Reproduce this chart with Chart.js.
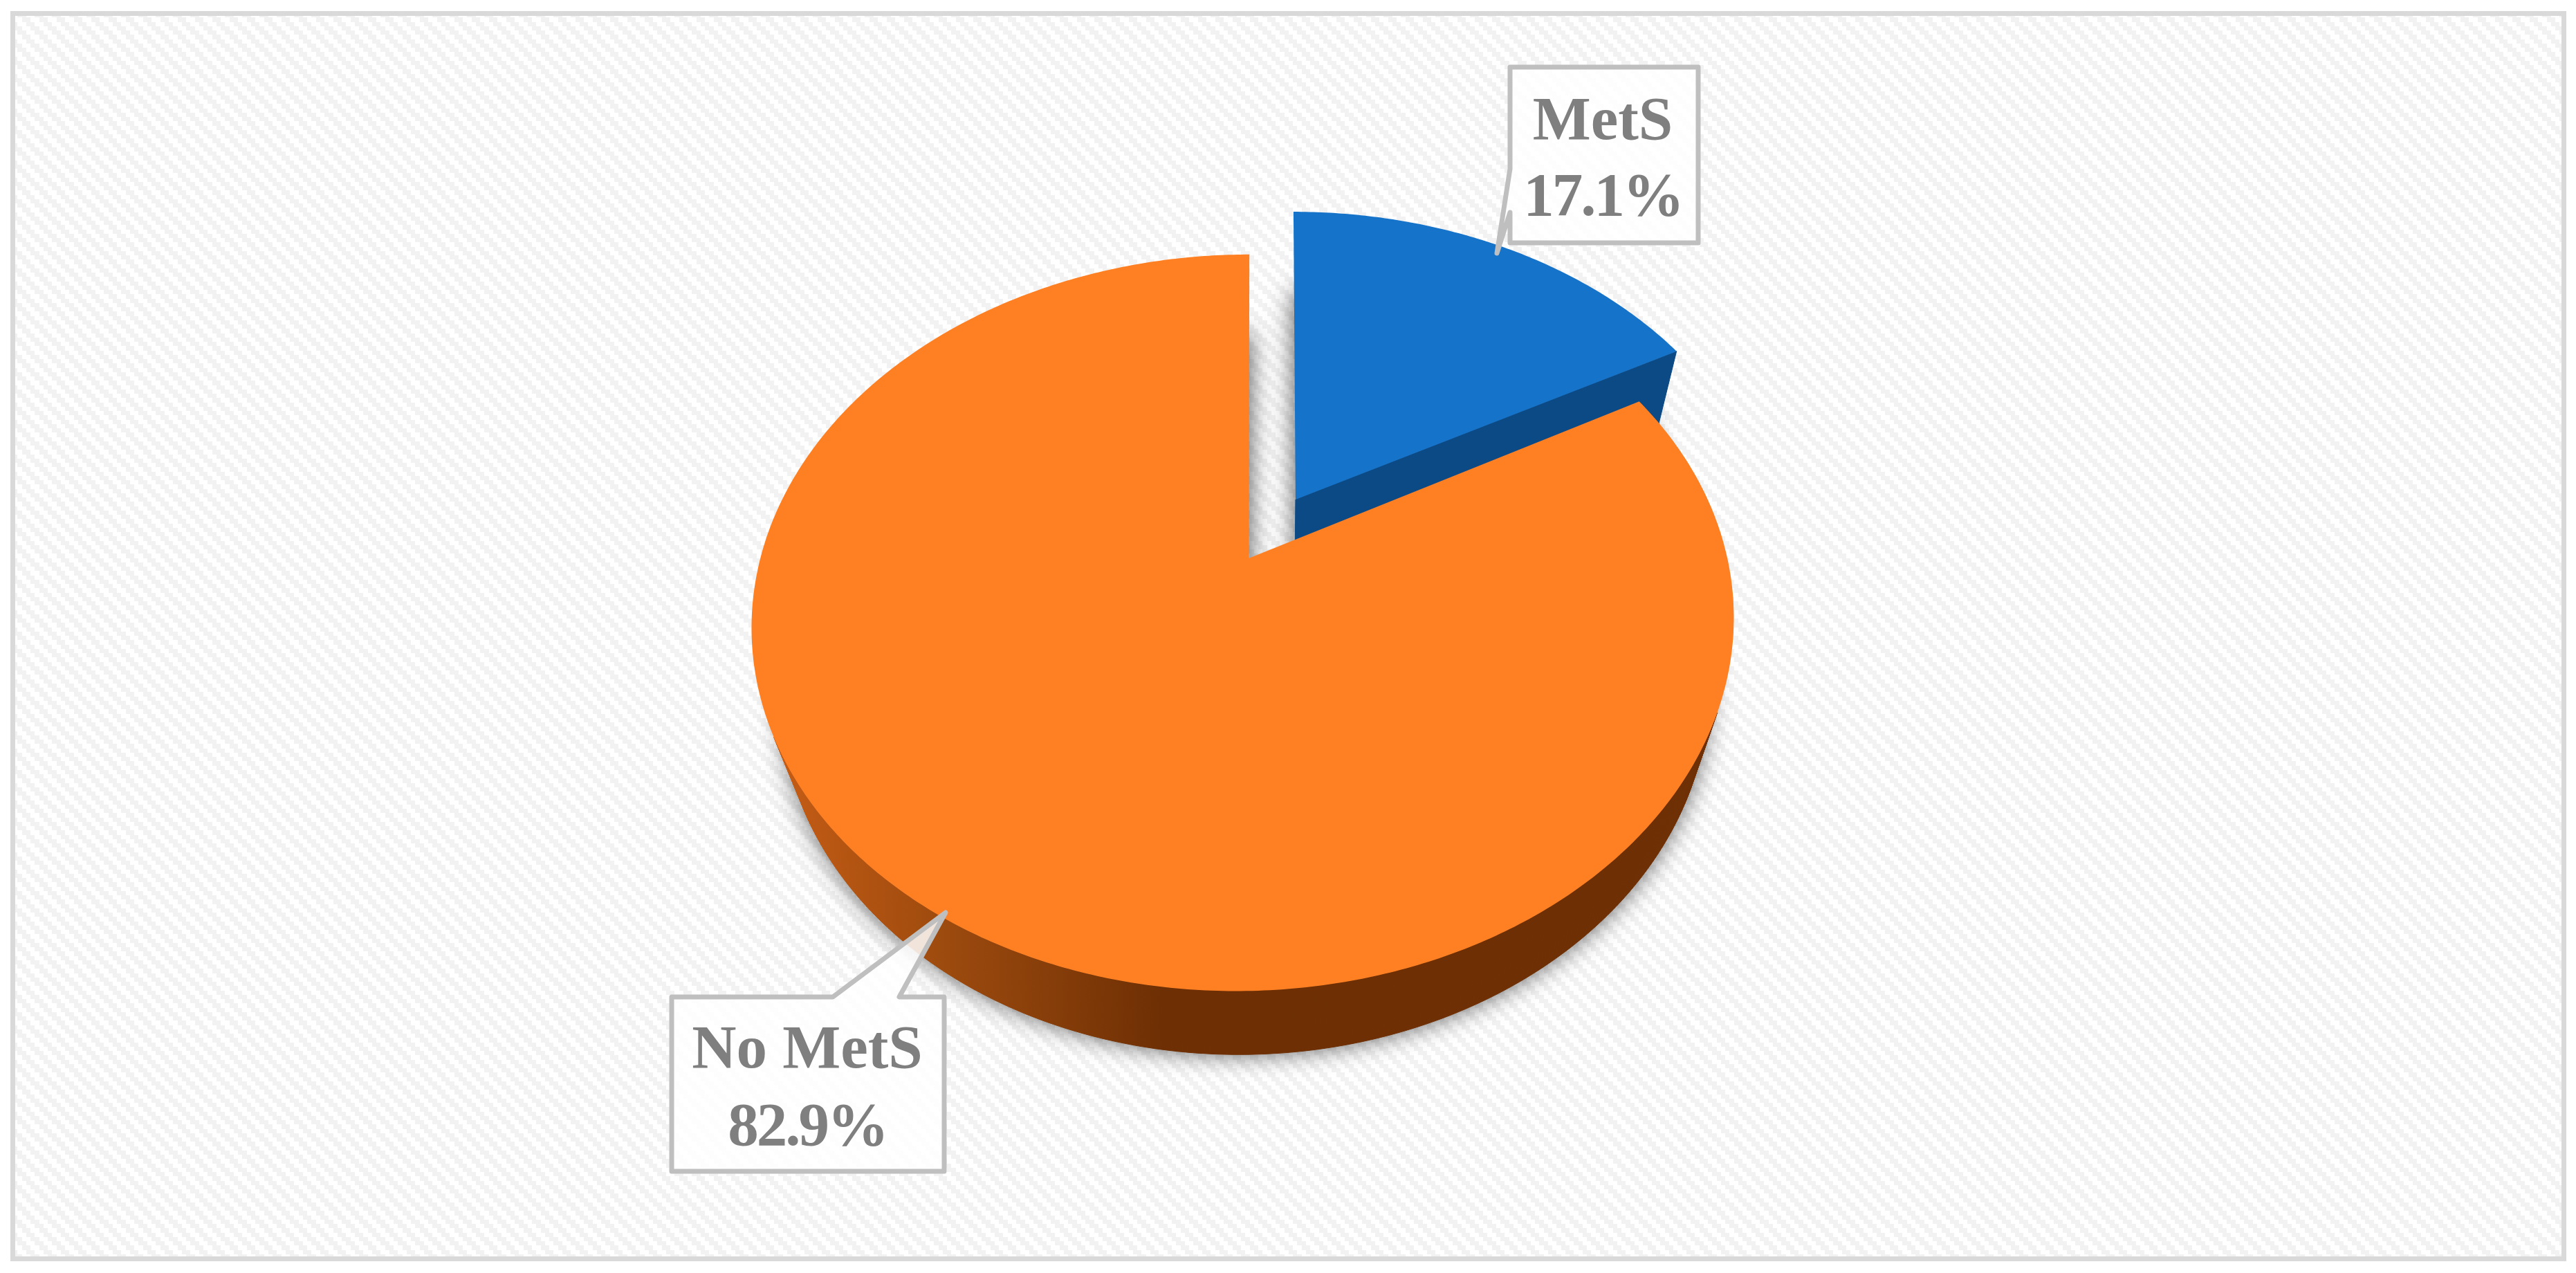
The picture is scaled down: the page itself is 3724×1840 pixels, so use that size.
<!DOCTYPE html>
<html>
<head>
<meta charset="utf-8">
<title>MetS</title>
<script src="https://cdn.jsdelivr.net/npm/chart.js@4/dist/chart.umd.min.js"></script>
<style>
  html, body { margin: 0; padding: 0; background: #fff; }
  #wrap { width: 3724px; height: 1840px; position: relative; }
</style>
</head>
<body>
<div id="wrap"><canvas id="pie"></canvas></div>
<script>
const categories = ['MetS', 'No MetS'];
const values = [17.1, 82.9];
const topColors = ['#1673CA', '#FF7F23'];
const wallColors = ['#0B4A85', '#6E2F04'];

const RADIUS = 700;
const EXPLODE = [552, 0]; // chart.js draws offset / 4

// perspective of the pie plane, fitted to the picture
const view = { ax: 1852, cy: 807, u0: -0.067, a: 699, b: 516, p: 0.175, g: 0.0575, d: 117 };
// small sideways nudges on the disk: whole slice, then rim only
const sliceNudge = [-0.003, 0];
const rimNudge = [0, -0.01];

// callout boxes
const callouts = [
  { box: [2183, 97, 2455, 351], points: [[2183, 307], [2164, 366], [2183, 244]], textX: 2317, lines: [201, 311] },
  { box: [971, 1441, 1365, 1693], points: [[1300, 1441], [1367, 1319], [1204, 1441]], textX: 1167, lines: [1543, 1655] }
];

function project(u, v, h) {
  const w = 1 - view.p * v + view.g * h;
  return [view.ax + view.a * (u + view.u0) / w, view.cy + (view.b * v + view.d * h) / w];
}

// outline of a slice on the unit disk, starting at its apex
function sliceOutline(arc, index) {
  const { startAngle, endAngle, outerRadius, options } = arc;
  const mid = (startAngle + endAngle) / 2;
  const shift = (options.offset || 0) / 4 / outerRadius;
  const cu = Math.cos(mid) * shift + sliceNudge[index];
  const cv = Math.sin(mid) * shift;
  const pts = [[cu, cv]];
  const steps = Math.ceil((endAngle - startAngle) / 0.01);
  for (let i = 0; i <= steps; i++) {
    const t = startAngle + (endAngle - startAngle) * i / steps;
    pts.push([cu + rimNudge[index] + Math.cos(t), cv + Math.sin(t)]);
  }
  return pts;
}

function tracePoly(ctx, pts, h) {
  ctx.beginPath();
  pts.forEach((p, i) => {
    const s = project(p[0], p[1], h);
    if (i === 0) ctx.moveTo(s[0], s[1]); else ctx.lineTo(s[0], s[1]);
  });
  ctx.closePath();
}

function drawWalls(ctx, pts, fill) {
  ctx.fillStyle = fill;
  ctx.strokeStyle = fill;
  ctx.lineWidth = 1;
  for (let i = 0; i < pts.length; i++) {
    const a = pts[i], b = pts[(i + 1) % pts.length];
    const q = [project(a[0], a[1], 0), project(b[0], b[1], 0), project(b[0], b[1], 1), project(a[0], a[1], 1)];
    // only sides that face the viewer
    let area = 0;
    q.forEach((p, k) => {
      const n = q[(k + 1) % 4];
      area += p[0] * n[1] - n[0] * p[1];
    });
    if (area >= 0) continue;
    // the nearly upright radial sides stay hidden in the reference
    const radial = i === 0 || i === pts.length - 1;
    if (radial && Math.abs(q[1][0] - q[0][0]) < Math.abs(q[1][1] - q[0][1])) continue;
    ctx.beginPath();
    ctx.moveTo(q[0][0], q[0][1]);
    q.slice(1).forEach(p => ctx.lineTo(p[0], p[1]));
    ctx.closePath();
    ctx.fill();
    ctx.stroke();
  }
}

const pie3d = {
  id: 'pie3d',
  beforeDraw(chart) {
    const { ctx, width, height } = chart;
    // diagonal stair pattern of the plot background: 4 cells of 6.25px, 2 of them grey
    const tile = document.createElement('canvas');
    tile.width = tile.height = 25;
    const t = tile.getContext('2d');
    t.fillStyle = '#fff';
    t.fillRect(0, 0, 25, 25);
    t.fillStyle = '#f2f2f2';
    for (let x = 0; x < 25; x++) {
      for (let y = 0; y < 25; y++) {
        const d = (Math.floor(x / 6.25) - Math.floor(y / 6.25) + 4) % 4;
        if (d === 1 || d === 2) t.fillRect(x, y, 1, 1);
      }
    }
    ctx.save();
    ctx.fillStyle = ctx.createPattern(tile, 'repeat');
    ctx.fillRect(0, 0, width, height);
    ctx.fillStyle = '#fff';
    ctx.fillRect(0, 0, width, 16);
    ctx.fillRect(0, 0, 15, height);
    ctx.fillRect(3710, 0, width - 3710, height);
    ctx.fillRect(0, 1823, width, height - 1823);
    ctx.strokeStyle = '#d9d9d9';
    ctx.lineWidth = 7;
    ctx.strokeRect(18.5, 19.5, 3688, 1800);
    ctx.restore();
  },
  beforeDatasetDraw(chart) {
    const { ctx } = chart;
    const arcs = chart.getDatasetMeta(0).data;
    const outlines = arcs.map(sliceOutline);

    ctx.save();
    // soft shadow of the lower face only
    outlines.forEach(pts => {
      ctx.save();
      ctx.shadowColor = 'rgba(0,0,0,0.62)';
      ctx.shadowBlur = 34;
      ctx.shadowOffsetX = 8000;
      ctx.translate(-8000, 0);
      ctx.fillStyle = '#000';
      tracePoly(ctx, pts, 1);
      ctx.fill();
      ctx.restore();
    });

    const wallShade = ctx.createLinearGradient(1120, 0, 1680, 0);
    wallShade.addColorStop(0, '#C65C14');
    wallShade.addColorStop(0.45, '#9C4A0E');
    wallShade.addColorStop(1, wallColors[1]);
    const wallFills = [wallColors[0], wallShade];

    outlines.forEach((pts, i) => {
      drawWalls(ctx, pts, wallFills[i]);
      tracePoly(ctx, pts, 0);
      ctx.fillStyle = topColors[i];
      ctx.fill();
    });
    ctx.restore();
    return false; // the slices are done, skip the flat arcs
  },
  afterDatasetsDraw(chart) {
    const { ctx } = chart;
    callouts.forEach((c, i) => {
      const [l, t, r, b] = c.box;
      ctx.save();
      ctx.beginPath();
      if (i === 0) {
        ctx.moveTo(l, t);
        ctx.lineTo(r, t);
        ctx.lineTo(r, b);
        ctx.lineTo(l, b);
        c.points.forEach(p => ctx.lineTo(p[0], p[1]));
      } else {
        ctx.moveTo(l, t);
        c.points.slice().reverse().forEach(p => ctx.lineTo(p[0], p[1]));
        ctx.lineTo(r, t);
        ctx.lineTo(r, b);
        ctx.lineTo(l, b);
      }
      ctx.closePath();
      ctx.fillStyle = 'rgba(255,255,255,0.85)';
      ctx.fill();
      ctx.strokeStyle = '#bfbfbf';
      ctx.lineWidth = 7;
      ctx.lineJoin = 'round';
      ctx.stroke();
      ctx.fillStyle = '#7f7f7f';
      ctx.font = 'bold 89px "Liberation Serif"';
      ctx.textAlign = 'center';
      ctx.textBaseline = 'alphabetic';
      ctx.fillText(categories[i], c.textX, c.lines[0]);
      ctx.letterSpacing = '-3px';
      ctx.fillText(values[i].toFixed(1) + '%', c.textX, c.lines[1]);
      ctx.restore();
    });
  }
};

new Chart(document.getElementById('pie'), {
  type: 'pie',
  data: {
    labels: categories,
    datasets: [{
      data: values,
      backgroundColor: topColors,
      borderWidth: 0,
      offset: EXPLODE
    }]
  },
  options: {
    responsive: true,
    maintainAspectRatio: false,
    animation: false,
    radius: RADIUS,
    plugins: { legend: { display: false }, tooltip: { enabled: false } }
  },
  plugins: [pie3d]
});
</script>
</body>
</html>
